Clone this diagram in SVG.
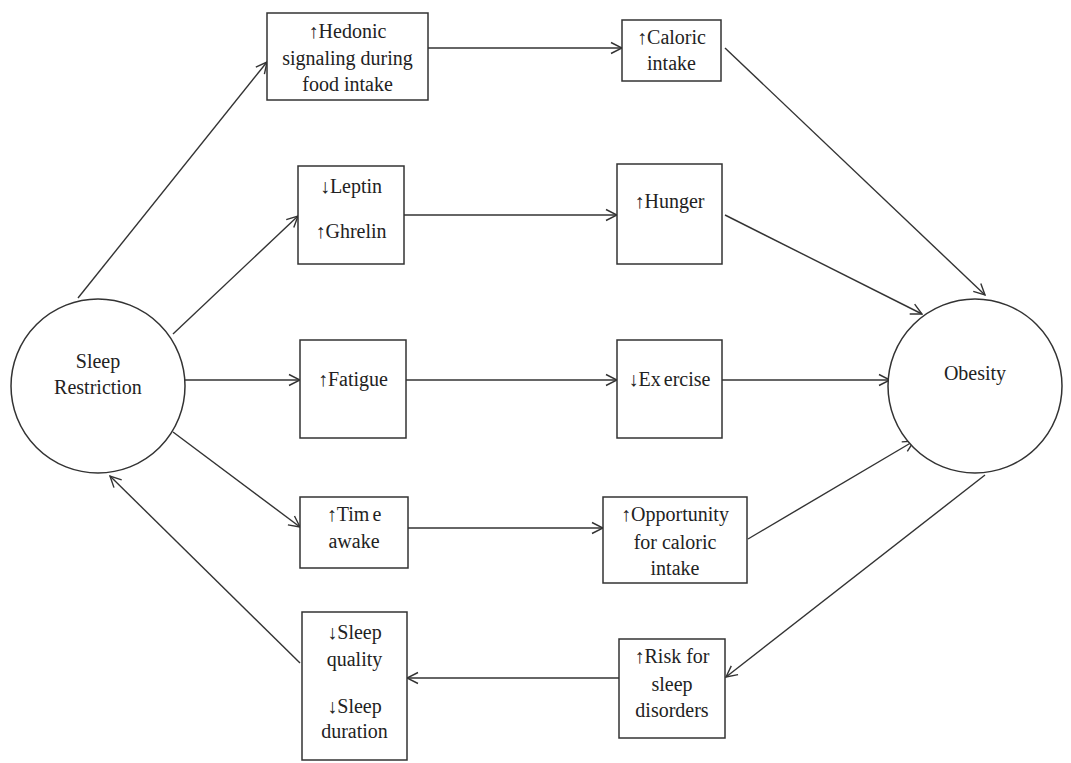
<svg xmlns="http://www.w3.org/2000/svg" width="1071" height="763" viewBox="0 0 1071 763">
<style>
  .box{fill:#fff;stroke:#333;stroke-width:1.5}
  .circ{fill:#fff;stroke:#333;stroke-width:1.5}
  .c{stroke:#333;stroke-width:1.4;fill:none;marker-end:url(#arr)}
  .t{font-family:"Liberation Serif","Times New Roman",serif;font-size:20px;fill:#222;text-anchor:middle}
</style>
<defs>
  <marker id="arr" markerUnits="userSpaceOnUse" markerWidth="14" markerHeight="14" viewBox="0 0 14 14" refX="13" refY="7" orient="auto">
    <path d="M2,1.5 L13,7 L2,12.5" fill="none" stroke="#333" stroke-width="1.4"/>
  </marker>
</defs>
<rect width="1071" height="763" fill="#fff"/>
<g id="connectors">
  <line class="c" x1="78" y1="298" x2="267" y2="62"/>
  <line class="c" x1="173" y1="334" x2="298" y2="216"/>
  <line class="c" x1="184" y1="380" x2="300" y2="380"/>
  <line class="c" x1="173" y1="432" x2="300" y2="527"/>
  <line class="c" x1="300" y1="663" x2="110" y2="476"/>
  <line class="c" x1="428" y1="48" x2="622" y2="48"/>
  <line class="c" x1="404" y1="215" x2="617" y2="215"/>
  <line class="c" x1="406" y1="380" x2="617" y2="380"/>
  <line class="c" x1="408" y1="528" x2="603" y2="528"/>
  <line class="c" x1="619" y1="678" x2="407" y2="678"/>
  <line class="c" x1="725" y1="48" x2="985" y2="295"/>
  <line class="c" x1="725" y1="215" x2="922" y2="314"/>
  <line class="c" x1="722" y1="380" x2="890" y2="380"/>
  <line class="c" x1="748" y1="539" x2="914" y2="441"/>
  <line class="c" x1="985" y1="475" x2="726" y2="677"/>
</g>
<g id="sleep-restriction">
  <circle class="circ" cx="98" cy="386" r="87"/>
  <text class="t" x="98" y="368">Sleep</text>
  <text class="t" x="98" y="394">Restriction</text>
</g>
<g id="obesity">
  <circle class="circ" cx="975" cy="386" r="87"/>
  <text class="t" x="975" y="380">Obesity</text>
</g>
<g id="hedonic">
  <rect class="box" x="267" y="13" width="161" height="87"/>
  <text class="t" x="347.5" y="38">↑Hedonic</text>
  <text class="t" x="347.5" y="65">signaling during</text>
  <text class="t" x="347.5" y="91">food intake</text>
</g>
<g id="caloric">
  <rect class="box" x="622" y="20" width="99" height="61"/>
  <text class="t" x="671.5" y="44">↑Caloric</text>
  <text class="t" x="671.5" y="70">intake</text>
</g>
<g id="leptin-ghrelin">
  <rect class="box" x="298" y="166" width="106" height="98"/>
  <text class="t" x="351" y="193">↓Leptin</text>
  <text class="t" x="351" y="238">↑Ghrelin</text>
</g>
<g id="hunger">
  <rect class="box" x="617" y="164" width="105" height="100"/>
  <text class="t" x="669.5" y="208">↑Hunger</text>
</g>
<g id="fatigue">
  <rect class="box" x="300" y="340" width="106" height="98"/>
  <text class="t" x="353" y="386">↑Fatigue</text>
</g>
<g id="exercise">
  <rect class="box" x="617" y="340" width="105" height="98"/>
  <text class="t" x="669.5" y="386">↓Ex<tspan dx="3">ercise</tspan></text>
</g>
<g id="time-awake">
  <rect class="box" x="300" y="497" width="108" height="71"/>
  <text class="t" x="354" y="521">↑Tim<tspan dx="3">e</tspan></text>
  <text class="t" x="354" y="548">awake</text>
</g>
<g id="opportunity">
  <rect class="box" x="603" y="497" width="144" height="86"/>
  <text class="t" x="675" y="521">↑Opportunity</text>
  <text class="t" x="675" y="549">for caloric</text>
  <text class="t" x="675" y="575">intake</text>
</g>
<g id="sleep-quality">
  <rect class="box" x="302" y="612" width="105" height="148"/>
  <text class="t" x="354.5" y="639">↓Sleep</text>
  <text class="t" x="354.5" y="666">quality</text>
  <text class="t" x="354.5" y="713">↓Sleep</text>
  <text class="t" x="354.5" y="738">duration</text>
</g>
<g id="risk">
  <rect class="box" x="619" y="639" width="106" height="99"/>
  <text class="t" x="672" y="663">↑Risk for</text>
  <text class="t" x="672" y="691">sleep</text>
  <text class="t" x="672" y="717">disorders</text>
</g>
</svg>
